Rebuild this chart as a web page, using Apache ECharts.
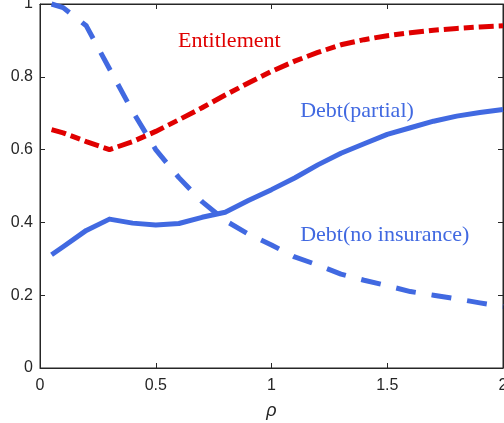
<!DOCTYPE html>
<html>
<head>
<meta charset="utf-8">
<script src="https://cdn.jsdelivr.net/npm/echarts@6/dist/echarts.min.js"></script>
<style>
  html, body { margin: 0; padding: 0; background: #fff; }
  #chart { width: 504px; height: 423px; }
</style>
</head>
<body>
<div id="chart"></div>
<script>
// rho grid
const rho = [0.05, 0.1, 0.2, 0.3, 0.4, 0.5, 0.6, 0.7, 0.8, 0.9, 1.0,
             1.1, 1.2, 1.3, 1.4, 1.5, 1.6, 1.7, 1.8, 1.9, 2.0];

// Entitlement
const entitlement = [0.655, 0.646, 0.622, 0.600, 0.622, 0.650, 0.682, 0.715, 0.750, 0.783, 0.815,
                     0.843, 0.867, 0.888, 0.902, 0.913, 0.921, 0.928, 0.933, 0.937, 0.940];

// Debt with partial insurance
const debtPartial = [0.311, 0.333, 0.378, 0.409, 0.398, 0.393, 0.397, 0.414, 0.428, 0.460, 0.490,
                     0.522, 0.558, 0.590, 0.616, 0.642, 0.660, 0.678, 0.692, 0.702, 0.710];

// Debt without insurance
const debtNoIns = [1.000, 0.990, 0.940, 0.822, 0.705, 0.600, 0.523, 0.457, 0.405, 0.368, 0.338,
                   0.305, 0.283, 0.258, 0.241, 0.226, 0.210, 0.200, 0.190, 0.179, 0.169];

// axis ticks
const xTicks = [0, 0.5, 1, 1.5, 2];
const yTicks = [0, 0.2, 0.4, 0.6, 0.8, 1];

// curve labels: text, anchor (rho, value) at left baseline
const curveLabels = [
  { text: 'Entitlement', x: 0.596, y: 0.8685, color: '#e00000' },
  { text: 'Debt(partial)', x: 1.124, y: 0.675, color: '#4169e1' },
  { text: 'Debt(no insurance)', x: 1.124, y: 0.334, color: '#4169e1' }
];

const RED = '#e00000';
const BLUE = '#4169e1';
const AXIS = '#262626';

const pair = (xs, ys) => xs.map((x, i) => [x, ys[i]]);

const chart = echarts.init(document.getElementById('chart'), null, { renderer: 'canvas' });

function axis(extra) {
  return Object.assign({
    type: 'value',
    axisLine: { show: true, onZero: false, lineStyle: { color: AXIS, width: 1 } },
    axisTick: { show: true, inside: true, length: 5, lineStyle: { color: AXIS, width: 1 } },
    splitLine: { show: false }
  }, extra);
}

chart.setOption({
  animation: false,
  backgroundColor: '#ffffff',
  grid: {
    left: 40, right: 1, top: 4, bottom: 55,
    outerBoundsMode: 'none', containLabel: false,
    show: true, borderColor: AXIS, borderWidth: 1, backgroundColor: 'transparent'
  },
  xAxis: [
    axis({
      position: 'bottom',
      min: xTicks[0], max: xTicks[xTicks.length - 1], interval: 0.5,
      axisLabel: { color: AXIS, fontFamily: 'Liberation Sans', fontSize: 16, margin: 10 },
      name: 'ρ',
      nameLocation: 'middle',
      nameGap: 34,
      nameTextStyle: { color: AXIS, fontFamily: 'Liberation Sans', fontStyle: 'italic', fontSize: 18 }
    }),
    axis({
      position: 'top',
      min: xTicks[0], max: xTicks[xTicks.length - 1], interval: 0.5,
      axisLabel: { show: false }
    })
  ],
  yAxis: [
    axis({
      position: 'left',
      min: yTicks[0], max: yTicks[yTicks.length - 1], interval: 0.2,
      axisLabel: { color: AXIS, fontFamily: 'Liberation Sans', fontSize: 16, margin: 7 }
    }),
    axis({
      position: 'right',
      min: yTicks[0], max: yTicks[yTicks.length - 1], interval: 0.2,
      axisLabel: { show: false }
    })
  ],
  series: [
    {
      name: 'Debt(no insurance)', type: 'line', showSymbol: false, clip: false,
      data: pair(rho, debtNoIns),
      lineStyle: { color: BLUE, width: 5, type: [20, 16], join: 'round' },
      z: 2
    },
    {
      name: 'Debt(partial)', type: 'line', showSymbol: false, clip: false,
      data: pair(rho, debtPartial),
      lineStyle: { color: BLUE, width: 5, type: 'solid', join: 'round' },
      z: 3
    },
    {
      name: 'Entitlement', type: 'line', showSymbol: false, clip: false,
      data: pair(rho, entitlement),
      lineStyle: { color: RED, width: 5, type: [15, 5, 10, 5], join: 'round' },
      z: 4
    }
  ]
});

// place the curve labels from data coordinates
const graphics = curveLabels.map(l => {
  const p = chart.convertToPixel({ xAxisIndex: 0, yAxisIndex: 0 }, [l.x, l.y]);
  return {
    type: 'text', x: p[0], y: p[1],
    style: {
      text: l.text, fill: l.color,
      font: '22px "Liberation Serif"',
      textAlign: 'left', textVerticalAlign: 'bottom'
    },
    z: 10
  };
});
chart.setOption({ graphic: graphics });
</script>
</body>
</html>
